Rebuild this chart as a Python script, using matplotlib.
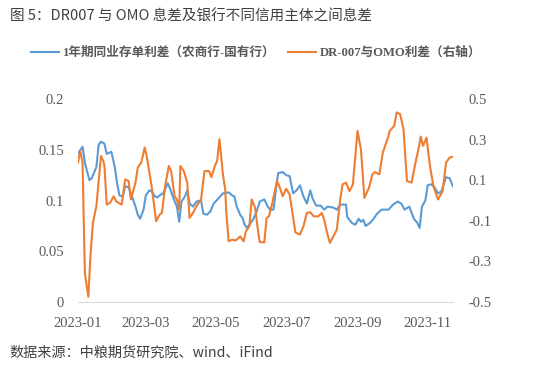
import pandas as pd
import matplotlib
matplotlib.use('Agg')
import matplotlib.pyplot as plt
import matplotlib.dates as mdates
from matplotlib.ticker import FixedLocator, FixedFormatter

# 数据（从图中读取，横轴为 2023-01-01 起的天数）
start = pd.Timestamp('2023-01-01')

# 1年期同业存单利差（农商行-国有行），左轴
blue_days = [0, 4, 6, 10, 12, 16, 18, 20, 23, 25, 27, 29, 31, 32, 34, 36, 39, 41, 44, 47,
             50, 52, 54, 57, 59, 62, 64, 67, 69, 71, 74, 78, 80, 83, 86, 88, 90, 93, 95, 97,
             100, 103, 107, 109, 112, 115, 118, 122, 126, 131, 134, 136, 138, 141, 143, 145,
             147, 149, 152, 155, 158, 162, 165, 167, 170, 172, 174, 178, 181, 184, 187, 190,
             193, 196, 199, 202, 204, 207, 211, 214, 217, 222, 225, 228, 233, 234, 238, 241,
             244, 246, 248, 250, 254, 257, 260, 264, 270, 274, 278, 281, 284, 288, 292, 295,
             297, 299, 302, 304, 307, 310, 313, 316, 320, 323, 326]
blue_vals = [0.1465, 0.153, 0.137, 0.120, 0.122, 0.133, 0.155, 0.158, 0.156, 0.146, 0.147,
             0.148, 0.138, 0.133, 0.117, 0.105, 0.104, 0.114, 0.113, 0.104, 0.094, 0.086,
             0.082, 0.091, 0.105, 0.110, 0.109, 0.104, 0.103, 0.105, 0.107, 0.117, 0.112,
             0.102, 0.094, 0.079, 0.099, 0.104, 0.110, 0.097, 0.094, 0.099, 0.100, 0.087,
             0.086, 0.089, 0.097, 0.102, 0.107, 0.108, 0.105, 0.104, 0.094, 0.086, 0.083,
             0.076, 0.073, 0.076, 0.081, 0.088, 0.099, 0.101, 0.094, 0.091, 0.091, 0.110,
             0.127, 0.128, 0.125, 0.124, 0.107, 0.110, 0.115, 0.104, 0.097, 0.110, 0.102,
             0.095, 0.095, 0.091, 0.094, 0.093, 0.091, 0.096, 0.096, 0.084, 0.078, 0.076,
             0.082, 0.079, 0.081, 0.075, 0.078, 0.082, 0.087, 0.091, 0.091, 0.096, 0.099,
             0.097, 0.091, 0.094, 0.082, 0.078, 0.073, 0.094, 0.100, 0.115, 0.116, 0.113,
             0.107, 0.109, 0.123, 0.122, 0.114]

# DR-007与OMO利差，右轴
orange_days = [0, 2, 4, 5, 6, 9, 11, 13, 16, 20, 22, 23, 25, 28, 31, 33, 35, 38, 41, 44,
               46, 48, 50, 52, 55, 58, 60, 64, 68, 71, 73, 76, 79, 81, 84, 86, 88, 89, 92,
               95, 97, 100, 103, 107, 110, 114, 116, 119, 121, 123, 126, 128, 129, 131, 134,
               137, 141, 144, 146, 149, 151, 154, 156, 158, 162, 164, 166, 169, 173, 175,
               178, 181, 184, 186, 189, 193, 196, 199, 202, 205, 209, 212, 214, 217, 219,
               222, 225, 228, 230, 233, 236, 239, 243, 246, 249, 253, 256, 258, 262, 265,
               268, 270, 271, 275, 277, 280, 283, 286, 290, 294, 296, 298, 300, 303, 306,
               309, 313, 317, 320, 323, 326]
orange_vals = [0.187, 0.244, 0.187, -0.094, -0.358, -0.474, -0.259, -0.110, -0.028, 0.219,
               0.195, 0.170, -0.020, -0.011, 0.021, -0.003, -0.011, -0.020, 0.104, 0.096,
               0.005, 0.046, 0.088, 0.162, 0.187, 0.261, 0.211, 0.071, -0.102, -0.069,
               -0.061, 0.079, 0.170, 0.145, 0.021, 0.005, -0.045, 0.170, 0.145, 0.088,
               -0.086, -0.061, -0.028, 0.005, 0.145, 0.145, 0.115, 0.170, 0.195, 0.302,
               0.129, 0.054, -0.061, -0.201, -0.193, -0.197, -0.177, -0.201, -0.152, -0.127,
               0.005, -0.036, -0.127, -0.205, -0.206, -0.086, -0.078, -0.011, 0.096, 0.071,
               0.021, 0.058, 0.030, -0.045, -0.157, -0.168, -0.127, -0.061, -0.058, -0.078,
               -0.078, -0.061, -0.094, -0.168, -0.209, -0.177, -0.144, 0.005, 0.079, 0.088,
               0.046, 0.079, 0.343, 0.252, 0.013, 0.063, 0.129, 0.140, 0.129, 0.236, 0.286,
               0.318, 0.343, 0.368, 0.434, 0.426, 0.351, 0.096, 0.088, 0.203, 0.252, 0.315,
               0.269, 0.310, 0.170, 0.071, 0.005, 0.046, 0.187, 0.211, 0.216]

left_ticks = [0, 0.05, 0.1, 0.15, 0.2]
left_labels = ['0', '0.05', '0.1', '0.15', '0.2']
right_ticks = [-0.5, -0.3, -0.1, 0.1, 0.3, 0.5]
right_labels = ['-0.5', '-0.3', '-0.1', '0.1', '0.3', '0.5']
month_ticks = ['2023-01-01', '2023-03-01', '2023-05-01', '2023-07-01', '2023-09-01', '2023-11-01']

blue_dates = start + pd.to_timedelta(blue_days, unit='D')
orange_dates = start + pd.to_timedelta(orange_days, unit='D')

serif = ['Liberation Serif', 'Noto Sans CJK SC']
sans = ['Noto Sans CJK SC', 'DejaVu Sans']
tick_color = '#595959'

fig = plt.figure(figsize=(5.43, 3.70), dpi=100)
ax = fig.add_axes([0.1436, 0.1838, 0.6906, 0.5486])
ax2 = ax.twinx()

l1, = ax.plot(blue_dates, blue_vals, color='#5B9BD5', lw=1.5,
              label='1年期同业存单利差（农商行-国有行）')
l2, = ax2.plot(orange_dates, orange_vals, color='#ED7D31', lw=1.5,
               label='DR-007与OMO利差（右轴）')

ax.set_xlim(start, start + pd.Timedelta(days=326))
ax.set_ylim(0, 0.2)
ax2.set_ylim(-0.5, 0.5)

ax.xaxis.set_major_locator(FixedLocator(mdates.date2num(pd.to_datetime(month_ticks))))
ax.xaxis.set_major_formatter(mdates.DateFormatter('%Y-%m'))
ax.yaxis.set_major_locator(FixedLocator(left_ticks))
ax.yaxis.set_major_formatter(FixedFormatter(left_labels))
ax2.yaxis.set_major_locator(FixedLocator(right_ticks))
ax2.yaxis.set_major_formatter(FixedFormatter(right_labels))

for a in (ax, ax2):
    for s in ['top', 'left', 'right']:
        a.spines[s].set_visible(False)
    a.spines['bottom'].set_color('#d9d9d9')
    a.tick_params(length=0, labelsize=10.5, colors=tick_color)
    for lab in a.get_xticklabels() + a.get_yticklabels():
        lab.set_family(serif)
ax.tick_params(axis='y', pad=10)
ax2.tick_params(axis='y', pad=11)
ax.tick_params(axis='x', pad=11)
ax2.spines['bottom'].set_visible(False)

leg = fig.legend(handles=[l1, l2], loc='center', bbox_to_anchor=(0.472, 0.857), ncol=2,
                 frameon=False, handlelength=2.2, columnspacing=1.0, handletextpad=0.3,
                 prop={'family': serif, 'size': 9.1, 'weight': 'bold'})
for t in leg.get_texts():
    t.set_color(tick_color)

fig.text(0.018, 0.955, '图 5：DR007 与 OMO 息差及银行不同信用主体之间息差', family=sans,
         fontsize=10.5, color='#404040', ha='left', va='center')
fig.text(0.018, 0.046, '数据来源：中粮期货研究院、wind、iFind', family=sans,
         fontsize=10.2, color='#404040', ha='left', va='center')

fig.savefig('out.png', dpi=100)
